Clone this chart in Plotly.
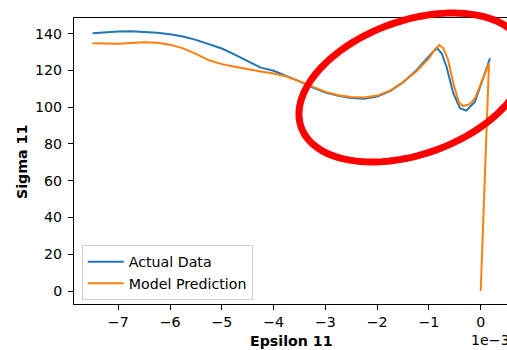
import numpy as np
import plotly.graph_objects as go

# Strain (1e-3 units converted below) and stress for the measured curve
actual_eps = [-7.50, -7.25, -7.00, -6.75, -6.50, -6.25, -6.00, -5.75, -5.50, -5.25,
              -5.00, -4.75, -4.50, -4.25, -4.00, -3.75, -3.50, -3.25, -3.00, -2.75,
              -2.50, -2.25, -2.00, -1.75, -1.50, -1.25, -1.00, -0.92, -0.84, -0.75,
              -0.66, -0.53, -0.40, -0.28, -0.11, 0.18]
actual_sig = [140.2, 140.8, 141.1, 141.3, 141.1, 140.5, 139.6, 138.4, 136.6, 134.4,
              131.9, 128.6, 125.0, 121.5, 119.8, 117.0, 114.0, 110.8, 108.0, 106.2,
              105.0, 104.6, 105.8, 108.7, 113.5, 119.8, 127.5, 130.2, 132.0, 129.0,
              122.0, 107.6, 99.4, 98.1, 103.0, 126.6]

# Model prediction (ends at the origin)
model_eps = [-7.50, -7.25, -7.00, -6.75, -6.50, -6.25, -6.00, -5.75, -5.50, -5.25,
             -5.00, -4.75, -4.50, -4.25, -4.00, -3.75, -3.50, -3.25, -3.00, -2.75,
             -2.50, -2.25, -2.00, -1.75, -1.50, -1.25, -1.00, -0.88, -0.80, -0.72,
             -0.63, -0.52, -0.42, -0.34, -0.22, -0.11, 0.16, 0.00]
model_sig = [134.8, 134.6, 134.5, 134.9, 135.3, 135.0, 134.0, 132.0, 129.0, 125.5,
             123.4, 122.0, 120.6, 119.4, 118.3, 116.7, 114.0, 111.0, 108.3, 106.5,
             105.5, 105.2, 106.3, 109.0, 113.7, 119.3, 126.5, 131.5, 133.8, 132.0,
             125.7, 112.0, 102.5, 100.6, 101.5, 104.8, 123.8, 0.0]

x_ticks = [-7, -6, -5, -4, -3, -2, -1, 0]
x_tick_text = ["\u22127", "\u22126", "\u22125", "\u22124", "\u22123", "\u22122", "\u22121", "0"]
y_ticks = [0, 20, 40, 60, 80, 100, 120, 140]

SCALE = 1e-3
FONT = "DejaVu Sans"
FS = 14.2
W, H = 507, 350
ML, MR, MT, MB = 74, 0, 18, 46

fig = go.Figure()
fig.add_trace(go.Scatter(x=np.array(actual_eps) * SCALE, y=actual_sig, mode="lines",
                         name="Actual Data", line=dict(color="#1f77b4", width=2)))
fig.add_trace(go.Scatter(x=np.array(model_eps) * SCALE, y=model_sig, mode="lines",
                         name="Model Prediction", line=dict(color="#ff7f0e", width=2)))

# Red highlight ellipse around the unloading region (pixel geometry -> paper coords)
cx, cy, a, b, theta = 412.5, 87.5, 118.2, 66.8, np.deg2rad(19.7)
t = np.linspace(0, 2 * np.pi, 121)
px = cx + a * np.cos(t) * np.cos(theta) + b * np.sin(t) * np.sin(theta)
py = cy - a * np.cos(t) * np.sin(theta) + b * np.sin(t) * np.cos(theta)
pw, ph = W - ML - MR, H - MT - MB
xp = (px - ML) / pw
yp = (H - MB - py) / ph
path = "M " + " L ".join(f"{u:.5f},{v:.5f}" for u, v in zip(xp, yp)) + " Z"
fig.add_shape(type="path", path=path, xref="paper", yref="paper",
              line=dict(color="#ff0000", width=7), layer="above")

fig.update_layout(
    width=W, height=H, autosize=False,
    margin=dict(l=ML, r=MR, t=MT, b=MB, pad=0),
    paper_bgcolor="white", plot_bgcolor="white",
    font=dict(family=FONT, size=FS, color="black"),
    showlegend=True,
    legend=dict(x=0.018, y=0.014, xanchor="left", yanchor="bottom",
                bgcolor="rgba(255,255,255,0.8)", bordercolor="#d0d0d0", borderwidth=1,
                itemwidth=36, tracegroupgap=0,
                font=dict(family=FONT, size=FS, color="black")),
    xaxis=dict(range=[-7.856e-3, 0.508e-3], tickvals=[v * SCALE for v in x_ticks],
               ticktext=x_tick_text, ticks="outside", ticklen=5, tickwidth=1,
               tickcolor="black", showline=True, linecolor="black", linewidth=1,
               mirror=True, showgrid=False, zeroline=False),
    yaxis=dict(range=[-7.07, 148.5], tickvals=y_ticks, ticks="outside", ticklen=5,
               tickwidth=1, tickcolor="black", showline=True, linecolor="black",
               linewidth=1, mirror=False, showgrid=False, zeroline=False,
               ticklabelstandoff=3),
    annotations=[
        dict(text="<b>Epsilon 11</b>", xref="paper", yref="paper",
             x=(291.5 - ML) / pw, y=(H - MB - 341) / ph, xanchor="center",
             yanchor="middle", showarrow=False, font=dict(family=FONT, size=FS)),
        dict(text="<b>Sigma 11</b>", xref="paper", yref="paper",
             x=(22 - ML) / pw, y=(H - MB - 162) / ph, xanchor="center",
             yanchor="middle", textangle=-90, showarrow=False,
             font=dict(family=FONT, size=FS)),
        dict(text="1e\u22123", xref="paper", yref="paper",
             x=(469 - ML) / pw, y=(H - MB - 340) / ph, xanchor="left",
             yanchor="middle", showarrow=False, font=dict(family=FONT, size=FS)),
    ],
)

fig.write_html("out.html")
